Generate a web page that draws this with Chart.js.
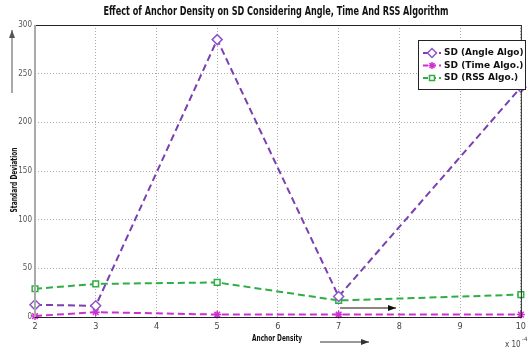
<!DOCTYPE html>
<html>
<head>
<meta charset="utf-8">
<script src="https://cdn.jsdelivr.net/npm/chart.js@4"></script>
<style>
    html, body { margin: 0; padding: 0; background: #fff; }
    #wrap { width: 530px; height: 350px; }
</style>
</head>
<body>
<div id="wrap"><canvas id="myChart" width="530" height="350"></canvas></div>
<script>
// anchor density (x 10^-4)
const density = [2, 3, 5, 7, 10];
const angleSD = [12.5, 11.5, 285, 21, 236];
const timeSD = [1, 5, 2.5, 2.5, 2.5];
const rssSD = [29, 34, 35.5, 17, 23];
const yTicks = [0, 50, 100, 150, 200, 250, 300];
const xTicks = [2, 3, 4, 5, 6, 7, 8, 9, 10];

const FONT = '"DejaVu Sans Condensed", "Liberation Sans Narrow", sans-serif';

function pts(ys) { return density.map((x, i) => ({ x, y: ys[i] })); }

const series = [
    { label: 'SD (Angle Algo)', data: pts(angleSD), borderColor: '#7a3fb0', pointStyle: 'rectRot', pointBorderColor: '#8e55c8', pointBackgroundColor: '#ffffff', pointRadius: 5 },
    { label: 'SD (Time Algo.)', data: pts(timeSD), borderColor: '#d12ed1', pointStyle: 'star', pointBorderColor: '#d12ed1', pointBackgroundColor: '#d12ed1', pointRadius: 4 },
    { label: 'SD (RSS Algo.)', data: pts(rssSD), borderColor: '#2eae45', pointStyle: 'rect', pointBorderColor: '#2eae45', pointBackgroundColor: '#ffffff', pointRadius: 4 }
];

// text squeezed to a given width
function fitText(c, txt, x, y, w) {
    const m = c.measureText(txt).width;
    c.save();
    c.translate(x, y);
    c.scale(w / m, 1);
    c.fillText(txt, 0, 0);
    c.restore();
}

// frame, arrows, legend and texts
const decor = {
    id: 'decor',
    afterDraw(chart) {
        const c = chart.ctx, a = chart.chartArea;
        c.save();
        // frame
        c.strokeStyle = '#222'; c.lineWidth = 1; c.setLineDash([]);
        c.strokeRect(a.left + 0.5, a.top + 0.5, a.right - a.left, a.bottom - a.top);
        c.strokeStyle = '#aaa'; c.lineWidth = 2;
        c.beginPath(); c.moveTo(a.left, a.top); c.lineTo(a.left, a.bottom); c.stroke();

        // title
        c.fillStyle = '#111';
        c.font = 'bold 12px ' + FONT;
        c.textAlign = 'center'; c.textBaseline = 'middle';
        fitText(c, 'Effect of Anchor Density on SD Considering Angle, Time And RSS Algorithm', 276, 12, 345);

        // axis titles
        c.font = 'bold 9px ' + FONT;
        fitText(c, 'Anchor Density', 277, 339, 50);
        c.save();
        c.translate(15, 180); c.rotate(-Math.PI / 2);
        fitText(c, 'Standard Deviation', 0, 0, 65);
        c.restore();
        c.font = '8px ' + FONT;
        c.fillStyle = '#444';
        c.textAlign = 'left';
        c.fillText('x 10', 505, 345);
        c.font = '6px ' + FONT;
        c.fillText('-4', 522, 339);

        // arrows
        function arrow(x1, y1, x2, y2, col) {
            c.strokeStyle = col; c.fillStyle = col; c.lineWidth = 1;
            c.beginPath(); c.moveTo(x1, y1); c.lineTo(x2, y2); c.stroke();
            const ang = Math.atan2(y2 - y1, x2 - x1);
            c.beginPath();
            c.moveTo(x2, y2);
            c.lineTo(x2 - 8 * Math.cos(ang) + 3 * Math.sin(ang), y2 - 8 * Math.sin(ang) - 3 * Math.cos(ang));
            c.lineTo(x2 - 8 * Math.cos(ang) - 3 * Math.sin(ang), y2 - 8 * Math.sin(ang) + 3 * Math.cos(ang));
            c.closePath(); c.fill();
        }
        arrow(12, 93, 12, 30, '#555');
        arrow(320, 342, 369, 342, '#333');
        arrow(340, 308, 396, 308, '#111');

        // legend
        const lx = 418, ly = 40, lw = 107, lh = 49;
        c.fillStyle = '#fff'; c.fillRect(lx, ly, lw, lh);
        c.strokeStyle = '#222'; c.lineWidth = 1;
        c.strokeRect(lx + 0.5, ly + 0.5, lw, lh);
        chart.data.datasets.forEach((ds, i) => {
            const y = ly + 13 + i * 12.5;
            c.strokeStyle = ds.borderColor; c.lineWidth = 2; c.setLineDash([5, 3]);
            c.beginPath(); c.moveTo(lx + 5, y); c.lineTo(lx + 23, y); c.stroke();
            c.setLineDash([]);
            c.fillStyle = ds.pointBackgroundColor; c.strokeStyle = ds.pointBorderColor; c.lineWidth = 1.5;
            Chart.helpers.drawPoint(c, { pointStyle: ds.pointStyle, radius: ds.pointRadius - 0.5, rotation: 0, borderWidth: 1.5 }, lx + 14, y);
            c.fillStyle = '#111';
            c.font = 'bold 9px ' + FONT;
            c.textAlign = 'left'; c.textBaseline = 'middle';
            fitText(c, ds.label, lx + 26, y, ds.label.length * 5.3);
        });
        c.restore();
    }
};

const ctx = document.getElementById('myChart').getContext('2d');
const myChart = new Chart(ctx, {
    type: 'line',
    data: {
        datasets: series.map(s => Object.assign({
            borderWidth: 2,
            borderDash: [7, 4],
            pointBorderWidth: 1.5,
            tension: 0,
            fill: false,
            clip: false
        }, s))
    },
    options: {
        responsive: false,
        animation: false,
        layout: { padding: { top: 25, right: 7, left: 0, bottom: 0 } },
        plugins: { legend: { display: false }, title: { display: false }, tooltip: { enabled: false } },
        scales: {
            x: {
                type: 'linear', min: 2, max: 10,
                afterBuildTicks: s => { s.ticks = xTicks.map(v => ({ value: v })); },
                afterFit: s => { s.height = 33; },
                grid: { color: '#aaa', lineWidth: 1, drawTicks: false },
                border: { display: false, dash: [1, 2] },
                ticks: { color: '#444', font: { size: 9, family: FONT }, padding: 4, callback: v => String(v) }
            },
            y: {
                min: 0, max: 300,
                afterBuildTicks: s => { s.ticks = yTicks.map(v => ({ value: v })); },
                afterFit: s => { s.width = 35; },
                grid: { color: '#aaa', lineWidth: 1, drawTicks: false },
                border: { display: false, dash: [1, 2] },
                ticks: { color: '#555', font: { size: 8, family: FONT }, padding: 3 }
            }
        }
    },
    plugins: [decor]
});
</script>
</body>
</html>
